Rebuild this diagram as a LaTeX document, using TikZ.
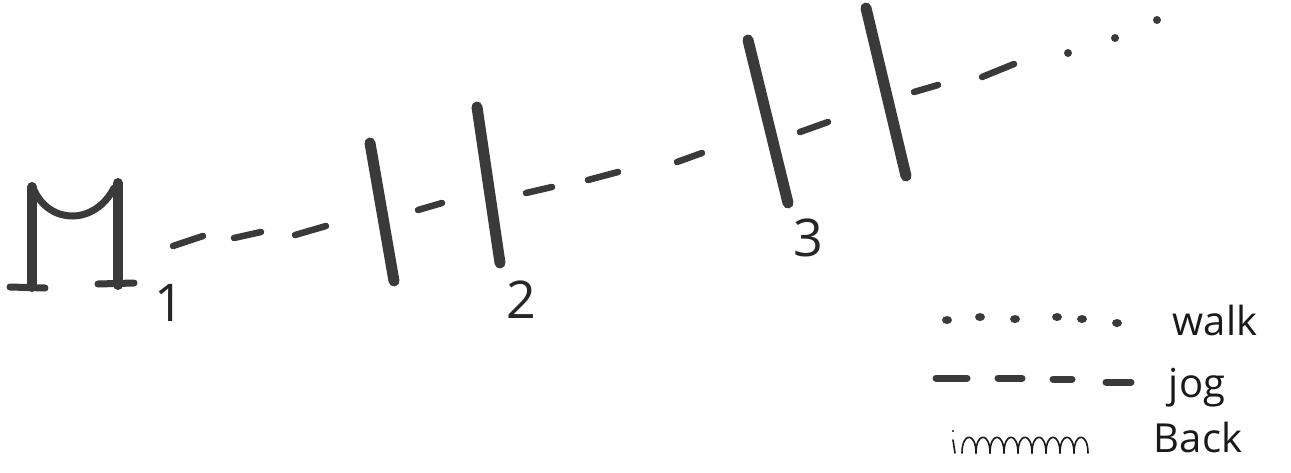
\documentclass[tikz,border=0pt]{standalone}
\usepackage{fontspec}
\setmainfont{Open Sans}
\definecolor{ink}{HTML}{3A3A3A}
\tikzset{
	mstroke/.style={draw=ink, line width=10pt, line cap=round},
	foot/.style={draw=ink, line width=7pt, line cap=round},
	bar/.style={draw=ink, line width=11pt, line cap=round},
	jd/.style={draw=ink, line width=6.5pt, line cap=round},
	wd/.style={fill=ink, draw=none},
	pen/.style={draw=black!90, line width=1.6pt, line cap=round, line join=round},
	num/.style={font=\fontsize{52}{52}\selectfont, text=black!85, inner sep=0pt},
	key/.style={font=\fontsize{40}{40}\selectfont, text=black!90, inner sep=0pt},
}
\begin{document}
\begin{tikzpicture}[x=1pt, y=-1pt]
	\useasboundingbox (0,0) rectangle (1291,472);
	% the M
	\draw[mstroke] (32,187) -- (32,287);
	\draw[mstroke] (118,183) -- (118,285);
	\draw[mstroke, line width=7pt] (34,190) .. controls (50,225) and (95,225) .. (114,188);
	\draw[foot] (10,287) -- (45,288);
	\draw[foot] (98,284) -- (134,283);
	% jog to bar 1
	\draw[jd] (173,246) -- (203,236);
	\draw[jd] (234,238) -- (261,232);
	\draw[jd] (295,235) -- (326,226);
	\draw[bar] (370,143) -- (394,281);
	\draw[jd] (418,210) -- (442,203);
	\draw[bar] (477,107) -- (500,263);
	% jog to bar 3
	\draw[jd] (526,193) -- (552,187);
	\draw[jd] (588,180) -- (618,172);
	\draw[jd] (677,162) -- (702,153);
	\draw[bar] (748,40) -- (788,203);
	\draw[jd] (800,132) -- (828,122);
	\draw[bar] (866,8) -- (906,176);
	\draw[jd] (914,92) -- (938,85);
	\draw[jd] (982,77) -- (1014,64);
	% walk on
	\fill[wd] (1068,53) circle (4);
	\fill[wd] (1115,38) circle (4);
	\fill[wd] (1157,20) circle (4);
	% stage numbers
	\node[num] (n1) at (169,303) {1};
	\node[num] (n2) at (521,300) {2};
	\node[num] (n3) at (808,238) {3};
	% key
	\fill[wd] (947,320) ellipse (5 and 4);
	\fill[wd] (980,317) ellipse (5 and 4);
	\fill[wd] (1015,319) ellipse (5 and 4);
	\fill[wd] (1057,317) ellipse (5 and 4);
	\fill[wd] (1082,319) ellipse (5 and 4);
	\fill[wd] (1117,323) ellipse (5 and 4);
	\draw[jd, line width=7pt] (936,378) -- (967,378);
	\draw[jd, line width=7pt] (998,378) -- (1022,378);
	\draw[jd, line width=7pt] (1053,379) -- (1072,379);
	\draw[jd, line width=7pt] (1106,382) -- (1131,382);
	\draw[pen] (953,440) -- (955,453);
	\fill[black!90] (953,431) circle (1.2);
	\foreach \x in {962,976,...,1076}
		\draw[pen] (\x,453) .. controls (\x,432) and (\x+14,432) .. (\x+14,453);
	\node[key] (walk) at (1215,320) {walk};
	\node[key] (jog) at (1197,388) {jog};
	\node[key] (back) at (1198,437) {Back};
\end{tikzpicture}
\end{document}
